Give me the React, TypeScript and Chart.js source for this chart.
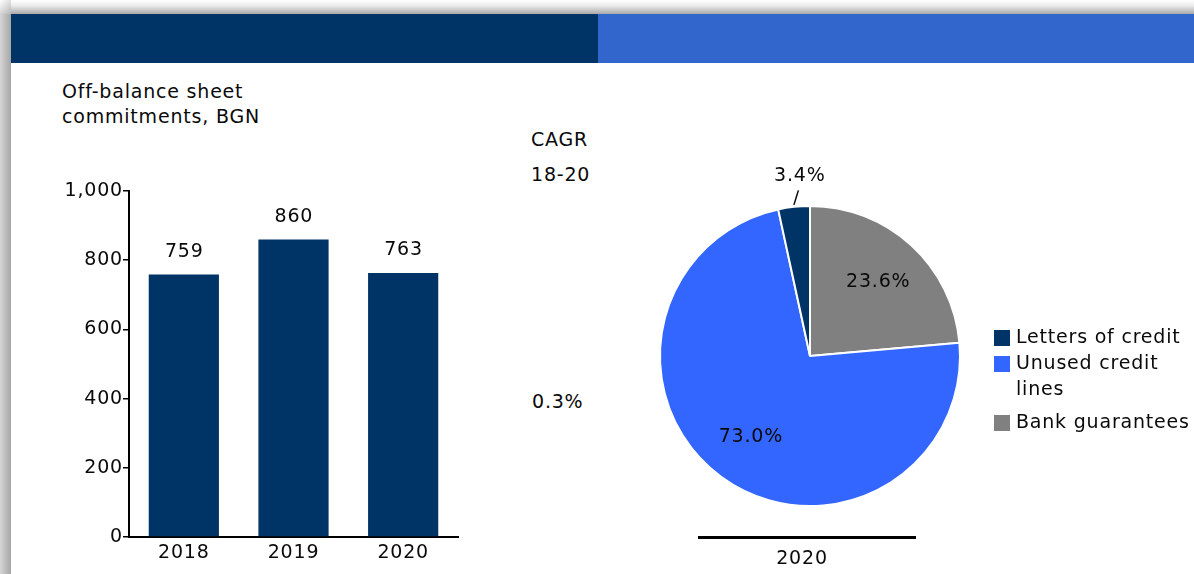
import React, { useEffect, useRef } from "react";
import { Chart, registerables } from "chart.js";

Chart.register(...registerables);

// ---------- data ----------
const barYears = ["2018", "2019", "2020"];
const barValues = [759, 860, 763];
const yTickValues = [0, 200, 400, 600, 800, 1000];
const yTickLabels = ["0", "200", "400", "600", "800", "1,000"];

const pieLabels = ["Bank guarantees", "Unused credit lines", "Letters of credit"];
const pieValues = [23.6, 73.0, 3.4];
const pieColors = ["#808080", "#3366FF", "#003366"];
const pieYear = "2020";

const titleLines = ["Off-balance sheet", "commitments, BGN"];
const cagrHeader = ["CAGR", "18-20"];
const cagrValue = "0.3%";

// ---------- style ----------
const FONT = '"DejaVu Sans", Verdana, sans-serif';
const FS = 19;
const LS = 0.8;
const TEXT = "#0a0a0a";
const NAVY = "#003366";

const baseOf = (lh: number) => (lh - 1.164 * FS) / 2 + 0.928 * FS;

const spacingPlugin = {
  id: "spacing",
  beforeDraw(chart: any) {
    chart.ctx.letterSpacing = LS + "px";
  },
};

const barLabelPlugin = {
  id: "barLabels",
  afterDatasetsDraw(chart: any) {
    const ctx = chart.ctx;
    const meta = chart.getDatasetMeta(0);
    ctx.save();
    ctx.letterSpacing = LS + "px";
    ctx.font = `${FS}px ${FONT}`;
    ctx.fillStyle = TEXT;
    ctx.textAlign = "center";
    ctx.textBaseline = "middle";
    meta.data.forEach((bar: any, i: number) => {
      const v = chart.data.datasets[0].data[i];
      ctx.fillText(String(v), bar.x + LS / 2, bar.y - 22.5);
    });
    ctx.restore();
  },
};

const pieLabelPlugin = {
  id: "pieLabels",
  afterDatasetsDraw(chart: any) {
    const ctx = chart.ctx;
    const meta = chart.getDatasetMeta(0);
    ctx.save();
    ctx.letterSpacing = LS + "px";
    ctx.font = `${FS}px ${FONT}`;
    ctx.fillStyle = TEXT;
    ctx.strokeStyle = TEXT;
    ctx.textAlign = "center";
    ctx.textBaseline = "middle";
    meta.data.forEach((arc: any, i: number) => {
      const { x, y, startAngle, endAngle, outerRadius } = arc.getProps(
        ["x", "y", "startAngle", "endAngle", "outerRadius"],
        true
      );
      const mid = (startAngle + endAngle) / 2;
      const v = chart.data.datasets[0].data[i] as number;
      const text = v.toFixed(1) + "%";
      if (endAngle - startAngle > 0.4) {
        const r = outerRadius * 0.67;
        ctx.fillText(text, x + Math.cos(mid) * r + LS / 2, y + Math.sin(mid) * r);
      } else {
        const sx = x + Math.cos(mid) * (outerRadius + 1);
        const sy = y + Math.sin(mid) * (outerRadius + 1);
        ctx.lineWidth = 1.5;
        ctx.beginPath();
        ctx.moveTo(sx, sy - 1);
        ctx.lineTo(sx + 4.5, sy - 15.5);
        ctx.stroke();
        ctx.fillText(text, sx + 5.5 + LS / 2, sy - 30);
      }
    });
    ctx.restore();
  },
};

function BarChart() {
  const ref = useRef<HTMLCanvasElement>(null);
  useEffect(() => {
    if (!ref.current) return;
    const chart = new Chart(ref.current, {
      type: "bar",
      data: {
        labels: barYears,
        datasets: [
          {
            data: barValues,
            backgroundColor: NAVY,
            borderWidth: 0,
            barPercentage: 0.64,
            categoryPercentage: 1,
          },
        ],
      },
      options: {
        animation: false,
        responsive: false,
        maintainAspectRatio: false,
        layout: { padding: { top: 21, right: 22, bottom: 0, left: 0 } },
        plugins: { legend: { display: false }, tooltip: { enabled: false } },
        scales: {
          x: {
            grid: { display: false, drawTicks: false },
            border: { display: true, color: "#000", width: 2 },
            ticks: { color: TEXT, font: { size: FS, family: FONT }, padding: 5 },
            afterFit: (s: any) => {
              s.height = 37;
            },
          },
          y: {
            min: 0,
            max: 1000,
            afterBuildTicks: (s: any) => {
              s.ticks = yTickValues.map((v) => ({ value: v }));
            },
            grid: {
              drawOnChartArea: false,
              drawTicks: true,
              tickLength: 6,
              color: "#000",
              lineWidth: 1.5,
            },
            border: { display: true, color: "#000", width: 2 },
            ticks: {
              color: TEXT,
              font: { size: FS, family: FONT },
              padding: 0,
              callback: (_v: any, i: number) => yTickLabels[i],
            },
            afterFit: (s: any) => {
              s.width = 89;
            },
          },
        },
      },
      plugins: [spacingPlugin, barLabelPlugin],
    } as any);
    return () => chart.destroy();
  }, []);
  return (
    <canvas
      ref={ref}
      width={440}
      height={404}
      style={{ position: "absolute", left: 40, top: 170, width: 440, height: 404, display: "block" }}
    />
  );
}

function PieChart() {
  const ref = useRef<HTMLCanvasElement>(null);
  useEffect(() => {
    if (!ref.current) return;
    const chart = new Chart(ref.current, {
      type: "pie",
      data: {
        labels: pieLabels,
        datasets: [
          {
            data: pieValues,
            backgroundColor: pieColors,
            borderColor: "#ffffff",
            borderWidth: 2,
            radius: 150,
          },
        ],
      },
      options: {
        animation: false,
        responsive: false,
        maintainAspectRatio: false,
        plugins: { legend: { display: false }, tooltip: { enabled: false } },
      },
      plugins: [pieLabelPlugin],
    } as any);
    return () => chart.destroy();
  }, []);
  return (
    <canvas
      ref={ref}
      width={412}
      height={412}
      style={{ position: "absolute", left: 604, top: 150, width: 412, height: 412, display: "block" }}
    />
  );
}

function Txt(props: { x: number; baseline: number; children: any }) {
  return (
    <div
      style={{
        position: "absolute",
        left: props.x,
        top: props.baseline - baseOf(25),
        lineHeight: "25px",
        fontSize: FS,
        fontFamily: FONT,
        letterSpacing: LS,
        color: TEXT,
        whiteSpace: "pre",
      }}
    >
      {props.children}
    </div>
  );
}

const legendItems = pieLabels
  .map((label, i) => ({ label, color: pieColors[i] }))
  .reverse();
const legendBaselines = [343, 369, 428];

export default function App() {
  return (
    <div
      style={{
        position: "fixed",
        left: 0,
        top: 0,
        width: 1194,
        height: 574,
        background: "#ffffff",
        overflow: "hidden",
        fontFamily: FONT,
      }}
    >
      {/* frame shadow */}
      <div
        style={{
          position: "absolute",
          left: 0,
          top: 0,
          width: 1194,
          height: 14,
          background: "linear-gradient(to bottom, #ffffff, #ececec 40%, #a9a9a9)",
        }}
      />
      <div
        style={{
          position: "absolute",
          left: 0,
          top: 0,
          width: 11,
          height: 574,
          background: "linear-gradient(to right, #d6d6d6, #a6a6a6)",
        }}
      />
      <div
        style={{
          position: "absolute",
          left: 0,
          top: 0,
          width: 11,
          height: 14,
          background: "linear-gradient(135deg, #ffffff, #b8b8b8)",
        }}
      />
      {/* header */}
      <div style={{ position: "absolute", left: 11, top: 14, width: 587, height: 49, background: NAVY }} />
      <div style={{ position: "absolute", left: 598, top: 14, width: 596, height: 49, background: "#3366CC" }} />

      {/* title */}
      <Txt x={62} baseline={98.3}>{titleLines[0]}</Txt>
      <Txt x={62} baseline={123.3}>{titleLines[1]}</Txt>

      <BarChart />

      {/* CAGR */}
      <Txt x={531} baseline={146}>{cagrHeader[0]}</Txt>
      <Txt x={531} baseline={181}>{cagrHeader[1]}</Txt>
      <Txt x={532} baseline={408}>{cagrValue}</Txt>

      <PieChart />

      {/* pie year axis */}
      <div style={{ position: "absolute", left: 698, top: 536, width: 218, height: 3, background: "#000" }} />
      <div
        style={{
          position: "absolute",
          left: 698,
          width: 218,
          top: 564 - baseOf(25),
          lineHeight: "25px",
          textAlign: "center",
          fontSize: FS,
          fontFamily: FONT,
          letterSpacing: LS,
          color: TEXT,
          paddingRight: 10,
          boxSizing: "border-box",
        }}
      >
        {pieYear}
      </div>

      {/* legend */}
      {legendItems.map((it, i) => (
        <React.Fragment key={it.label}>
          <div
            style={{
              position: "absolute",
              left: 994,
              top: legendBaselines[i] - 13,
              width: 16,
              height: 16,
              background: it.color,
            }}
          />
          <div
            style={{
              position: "absolute",
              left: 1016,
              top: legendBaselines[i] - baseOf(26),
              width: 178,
              lineHeight: "26px",
              fontSize: FS,
              fontFamily: FONT,
              letterSpacing: LS,
              color: TEXT,
            }}
          >
            {it.label}
          </div>
        </React.Fragment>
      ))}
    </div>
  );
}
